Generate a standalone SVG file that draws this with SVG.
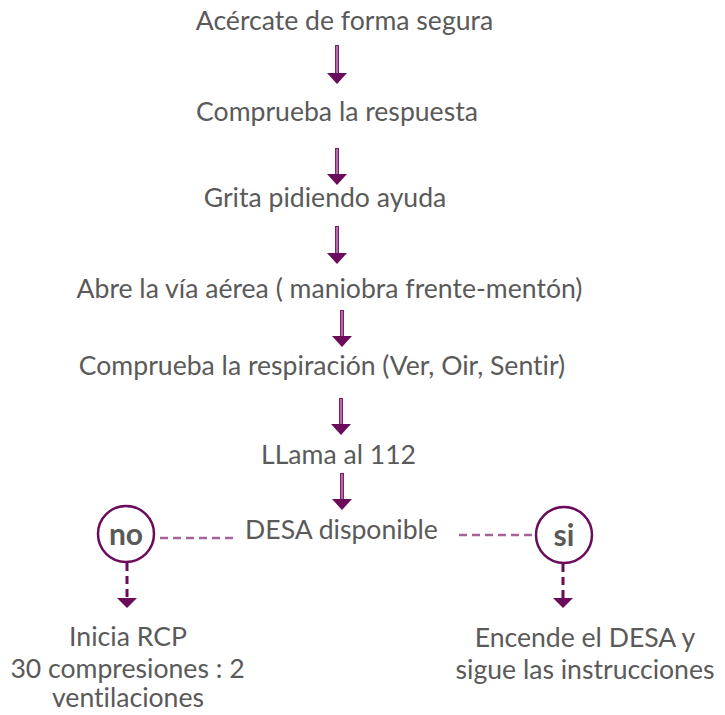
<svg xmlns="http://www.w3.org/2000/svg" width="725" height="715" viewBox="0 0 725 715">
<defs>
<style>
.t{font-family:Lato,"Noto Sans",sans-serif;font-size:26.6px;font-weight:400;fill:#5a5a5a;text-anchor:middle;font-variant-ligatures:none}
.b{font-family:Lato,"Noto Sans",sans-serif;font-size:30px;font-weight:bold;fill:#595959;text-anchor:middle}
.shaft{stroke:#7a1f6c;stroke-width:4}
.core{stroke:#c48ab9;stroke-width:1.5}
.head{fill:#6a0b5b}
.ring{fill:#fff;stroke:#6a0b5b;stroke-width:2.5}
.hd{stroke:#a3649a;stroke-width:2.5;stroke-dasharray:8,5;fill:none}
.vd{stroke:#6a0b5b;stroke-width:3;stroke-dasharray:8,5;fill:none}
</style>
</defs>
<rect width="725" height="715" fill="#fff"/>
<g id="connectors">
<g><line class="shaft" x1="337" y1="45" x2="337" y2="74"/><line class="core" x1="337" y1="46" x2="337" y2="74"/><polygon class="head" points="327,73 347,73 337,84"/></g>
<g><line class="shaft" x1="337" y1="148" x2="337" y2="175"/><line class="core" x1="337" y1="149" x2="337" y2="175"/><polygon class="head" points="327,174 347,174 337,185"/></g>
<g><line class="shaft" x1="337" y1="226" x2="337" y2="254"/><line class="core" x1="337" y1="227" x2="337" y2="254"/><polygon class="head" points="327,253 347,253 337,264"/></g>
<g><line class="shaft" x1="342" y1="310" x2="342" y2="337"/><line class="core" x1="342" y1="311" x2="342" y2="337"/><polygon class="head" points="332,336 352,336 342,347"/></g>
<g><line class="shaft" x1="341" y1="398" x2="341" y2="425"/><line class="core" x1="341" y1="399" x2="341" y2="425"/><polygon class="head" points="331,424 351,424 341,435"/></g>
<g><line class="shaft" x1="342" y1="473" x2="342" y2="500"/><line class="core" x1="342" y1="474" x2="342" y2="500"/><polygon class="head" points="332,499 352,499 342,510"/></g>
<line class="hd" x1="160" y1="538" x2="233" y2="538"/>
<line class="hd" x1="459" y1="535" x2="535" y2="535"/>
<line class="vd" x1="127" y1="563" x2="127" y2="599"/>
<polygon class="head" points="117,598 137,598 127,608"/>
<line class="vd" x1="563" y1="564" x2="563" y2="599"/>
<polygon class="head" points="553,598 573,598 563,608"/>
</g>
<g id="n1"><text class="t" x="344.5" y="30">Acércate de forma segura</text></g>
<g id="n2"><text class="t" x="337" y="121">Comprueba la respuesta</text></g>
<g id="n3"><text class="t" x="325" y="207">Grita pidiendo ayuda</text></g>
<g id="n4"><text class="t" x="329.5" y="298">Abre la vía aérea ( maniobra frente-mentón)</text></g>
<g id="n5"><text class="t" x="322" y="375">Comprueba la respiración (Ver, Oir, Sentir)</text></g>
<g id="n6"><text class="t" x="338.5" y="464">LLama al 112</text></g>
<g id="n7"><text class="t" x="341.5" y="539">DESA disponible</text></g>
<g id="no"><circle class="ring" cx="126" cy="534" r="28"/><text class="b" x="126" y="545">no</text></g>
<g id="si"><circle class="ring" cx="564" cy="535" r="28"/><text class="b" x="564" y="546">si</text></g>
<g id="n8"><text class="t" x="128" y="646">Inicia RCP</text><text class="t" x="127.5" y="678">30 compresiones : 2</text><text class="t" x="128" y="707">ventilaciones</text></g>
<g id="n9"><text class="t" x="585" y="647">Encende el DESA y</text><text class="t" x="585" y="679">sigue las instrucciones</text></g>
</svg>
